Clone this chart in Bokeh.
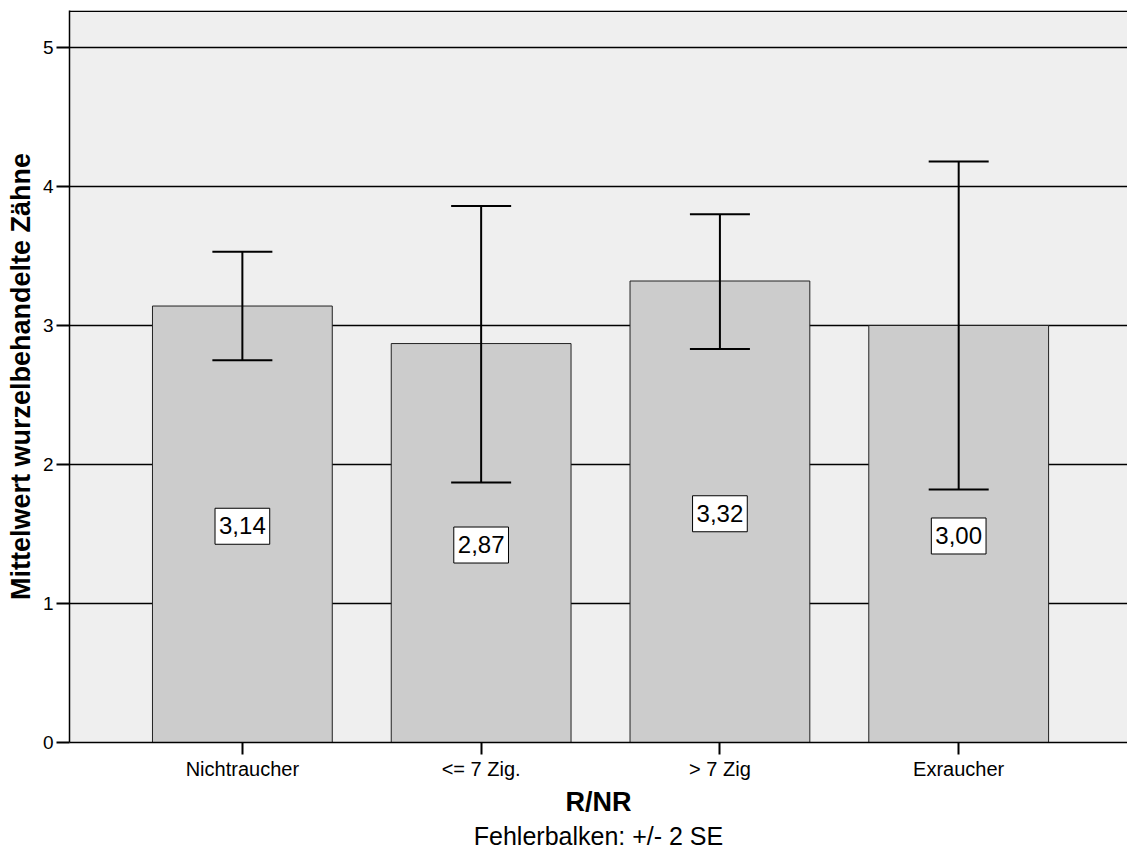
from bokeh.plotting import figure
from bokeh.models import (ColumnDataSource, Range1d, FixedTicker, Whisker, TeeHead,
                          Span, Title)
from bokeh.core.properties import value
from bokeh.embed import file_html
from bokeh.resources import INLINE

# ---- data ----
categories = ["Nichtraucher", "<= 7 Zig.", "> 7 Zig", "Exraucher"]
means = [3.14, 2.87, 3.32, 3.00]
lower_2se = [2.75, 1.87, 2.83, 1.82]
upper_2se = [3.53, 3.86, 3.80, 4.18]
mean_labels = ["3,14", "2,87", "3,32", "3,00"]
y_ticks = [0, 1, 2, 3, 4, 5]

FONT = "Liberation Sans"

xpos = list(range(len(categories)))
src = ColumnDataSource(dict(
    x=xpos, mean=means, lower=lower_2se, upper=upper_2se,
    label=mean_labels, label_y=[m / 2 for m in means],
))

Y_END = 5.266
p = figure(width=1127, height=852, output_backend="svg", toolbar_location=None,
           x_range=Range1d(-0.724, 3.707), y_range=Range1d(0, Y_END),
           min_border_left=69, min_border_right=0, min_border_top=10,
           min_border_bottom=110)

p.background_fill_color = "#efefef"
p.border_fill_color = "white"
p.outline_line_color = None

# bars
p.vbar(x="x", top="mean", bottom=0, width=0.753, source=src,
       fill_color="#cccccc", line_color="#222222", line_width=1)

# error bars (drawn above the bars)
w = Whisker(base="x", upper="upper", lower="lower", source=src,
            line_color="black", line_width=2, level="overlay",
            upper_head=TeeHead(size=60, line_width=2, line_color="black"),
            lower_head=TeeHead(size=60, line_width=2, line_color="black"))
p.add_layout(w)

# value labels
p.text(x="x", y="label_y", text="label", source=src,
       text_font=value(FONT), text_font_size="24px", text_color="black",
       text_align="center", text_baseline="middle", y_offset=2,
       background_fill_color="white", border_line_color="black",
       border_line_width=1,
       padding=dict(left=4, right=4, top=9, bottom=10))

# top border
p.add_layout(Span(location=Y_END - 0.006, dimension="width",
                  line_color="black", line_width=1.5))

# grid
p.xgrid.grid_line_color = None
p.ygrid.grid_line_color = "black"
p.ygrid.grid_line_width = 1.3
p.ygrid.ticker = FixedTicker(ticks=y_ticks)

# x axis
xa = p.xaxis[0]
xa.ticker = FixedTicker(ticks=xpos)
xa.major_label_overrides = {i: c for i, c in zip(xpos, categories)}
xa.axis_label = "R/NR"
xa.axis_label_text_font = FONT
xa.axis_label_text_font_style = "bold"
xa.axis_label_text_font_size = "27px"
xa.axis_label_text_color = "black"
xa.axis_label_standoff = 4
xa.major_label_text_font = FONT
xa.major_label_text_font_size = "20px"
xa.major_label_text_color = "black"
xa.major_label_standoff = 3
xa.major_tick_out = 12
xa.major_tick_in = 0
xa.major_tick_line_width = 2
xa.minor_tick_line_color = None
xa.axis_line_color = "black"
xa.axis_line_width = 1.5

# y axis
ya = p.yaxis[0]
ya.ticker = FixedTicker(ticks=y_ticks)
ya.axis_label = "Mittelwert wurzelbehandelte Zähne"
ya.axis_label_text_font = FONT
ya.axis_label_text_font_style = "bold"
ya.axis_label_text_font_size = "27px"
ya.axis_label_text_color = "black"
ya.axis_label_standoff = 4
ya.major_label_text_font = FONT
ya.major_label_text_font_size = "19px"
ya.major_label_text_color = "black"
ya.major_label_standoff = 3
ya.major_tick_out = 13
ya.major_tick_in = 0
ya.major_tick_line_width = 2
ya.minor_tick_line_color = None
ya.axis_line_color = "black"
ya.axis_line_width = 1.5

# footnote
p.add_layout(Title(text="Fehlerbalken: +/- 2 SE", align="center",
                   text_font=FONT, text_font_size="25px", text_color="black",
                   text_font_style="normal", standoff=0), "below")

open("out.html", "w").write(file_html(p, INLINE))
